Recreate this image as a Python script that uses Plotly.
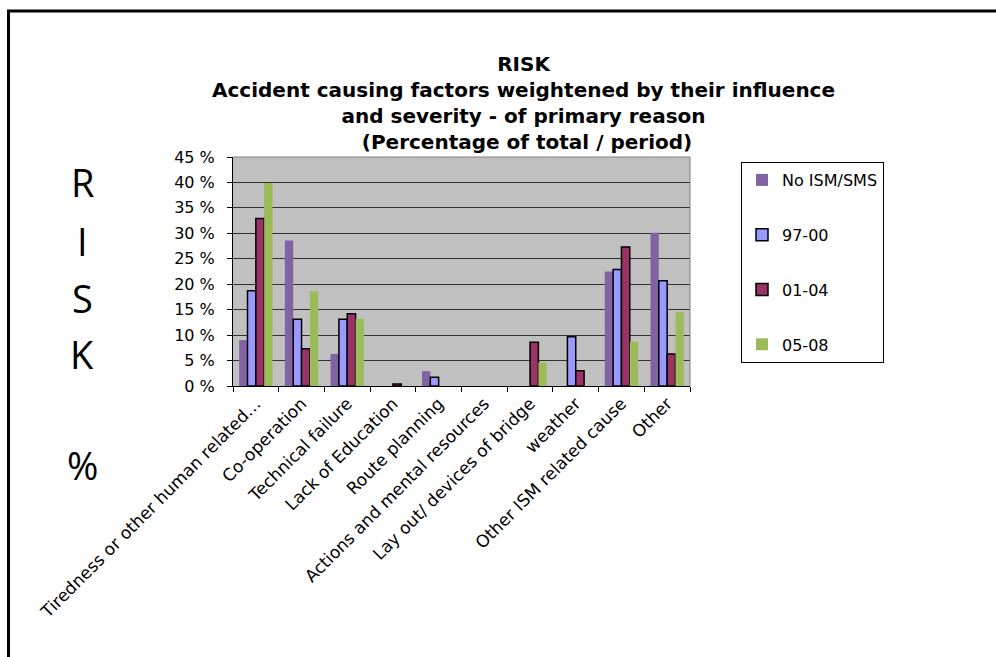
import plotly.graph_objects as go

# Accident causing factors (x categories)
categories = [
    "Tiredness or other human related…",
    "Co-operation",
    "Technical failure",
    "Lack of Education",
    "Route planning",
    "Actions and mental resources",
    "Lay out/ devices of bridge",
    "weather",
    "Other ISM related cause",
    "Other",
]

# Percentage of total per period
no_ism_sms = [9.0, 28.6, 6.3, 0.0, 2.9, 0.0, 0.0, 0.0, 22.5, 30.1]
p97_00 = [18.7, 13.1, 13.1, 0.0, 1.7, 0.0, 0.0, 9.7, 22.9, 20.7]
p01_04 = [32.9, 7.3, 14.2, 0.4, 0.0, 0.0, 8.6, 3.0, 27.3, 6.3]
p05_08 = [39.9, 18.6, 13.2, 0.0, 0.0, 0.0, 4.6, 0.0, 8.7, 14.5]

y_ticks = [0, 5, 10, 15, 20, 25, 30, 35, 40, 45]
y_tick_text = [f"{v} %" for v in y_ticks]

series = [
    ("No ISM/SMS", no_ism_sms, "#8064A2", 0),
    ("97-00", p97_00, "#9999FF", 1.5),
    ("01-04", p01_04, "#993366", 1.5),
    ("05-08", p05_08, "#9BBB59", 0),
]

# Figure geometry (pixels)
W, H = 996, 657
L, R, T, B = 233, 306, 157, 271
PW, PH = W - L - R, H - T - B


def px(x):
    return (x - L) / PW


def py(y):
    return (H - B - y) / PH


fig = go.Figure()
for i, (name, vals, color, lw) in enumerate(series):
    # empty categories get no bar (so no outline is drawn at zero)
    shown = [v if v > 0 else None for v in vals]
    fig.add_trace(go.Bar(
        x=categories, y=shown, name=name,
        marker=dict(color=color, line=dict(color="black", width=lw)),
        legendgroup=f"g{i}",
    ))

base_font = "DejaVu Sans"

fig.update_layout(
    width=W, height=H,
    margin=dict(l=L, r=R, t=T, b=B, pad=0),
    paper_bgcolor="white",
    plot_bgcolor="#C0C0C0",
    barmode="group",
    bargap=0.27,
    bargroupgap=0,
    font=dict(family=base_font, color="black", size=16),
    showlegend=True,
    legend=dict(
        x=px(741), y=py(162), xanchor="left", yanchor="top",
        bgcolor="white", bordercolor="black", borderwidth=1,
        font=dict(family=base_font, size=16, color="black"),
        traceorder="grouped", tracegroupgap=31,
    ),
    xaxis=dict(
        showline=True, linecolor="black", linewidth=1,
        ticks="outside", ticklen=5, tickcolor="black",
        tickson="boundaries", tickangle=-45,
        tickfont=dict(family=base_font, size=17),
        showgrid=False, zeroline=False,
    ),
    yaxis=dict(
        range=[0, 45], tickvals=y_ticks, ticktext=y_tick_text,
        showline=True, linecolor="black", linewidth=1,
        ticks="outside", ticklen=5, tickcolor="black",
        ticklabelstandoff=9,
        tickfont=dict(family=base_font, size=16),
        showgrid=True, gridcolor="#303030", gridwidth=1,
        zeroline=False,
    ),
)

# Plot-area border on top and right
fig.add_shape(type="line", xref="paper", yref="paper", x0=0, x1=1, y0=1, y1=1,
              line=dict(color="#808080", width=1))
fig.add_shape(type="line", xref="paper", yref="paper", x0=1, x1=1, y0=0, y1=1,
              line=dict(color="#808080", width=1))

# Outer frame (left and top edges)
fig.add_shape(type="line", xref="paper", yref="paper",
              x0=px(8.5), x1=px(8.5), y0=py(10), y1=py(670),
              line=dict(color="black", width=3))
fig.add_shape(type="line", xref="paper", yref="paper",
              x0=px(7), x1=px(1010), y0=py(11), y1=py(11),
              line=dict(color="black", width=3))

# Title
fig.add_annotation(
    xref="paper", yref="paper", x=px(523), y=py(50),
    xanchor="center", yanchor="top", showarrow=False, align="center",
    text="<b>RISK<br>Accident causing factors weightened by their influence<br>"
         "and severity - of primary reason<br> (Percentage of total / period)</b>",
    font=dict(family=base_font, size=20, color="black"),
)

# Vertical axis caption, one letter per line
for letter, yc in [("R", 182), ("I", 241), ("S", 298), ("K", 354), ("%", 465)]:
    fig.add_annotation(
        xref="paper", yref="paper", x=px(82), y=py(yc),
        xanchor="center", yanchor="middle", showarrow=False,
        text=letter, font=dict(family="Open Sans", size=38, color="black"),
    )

fig.write_html("out.html")
